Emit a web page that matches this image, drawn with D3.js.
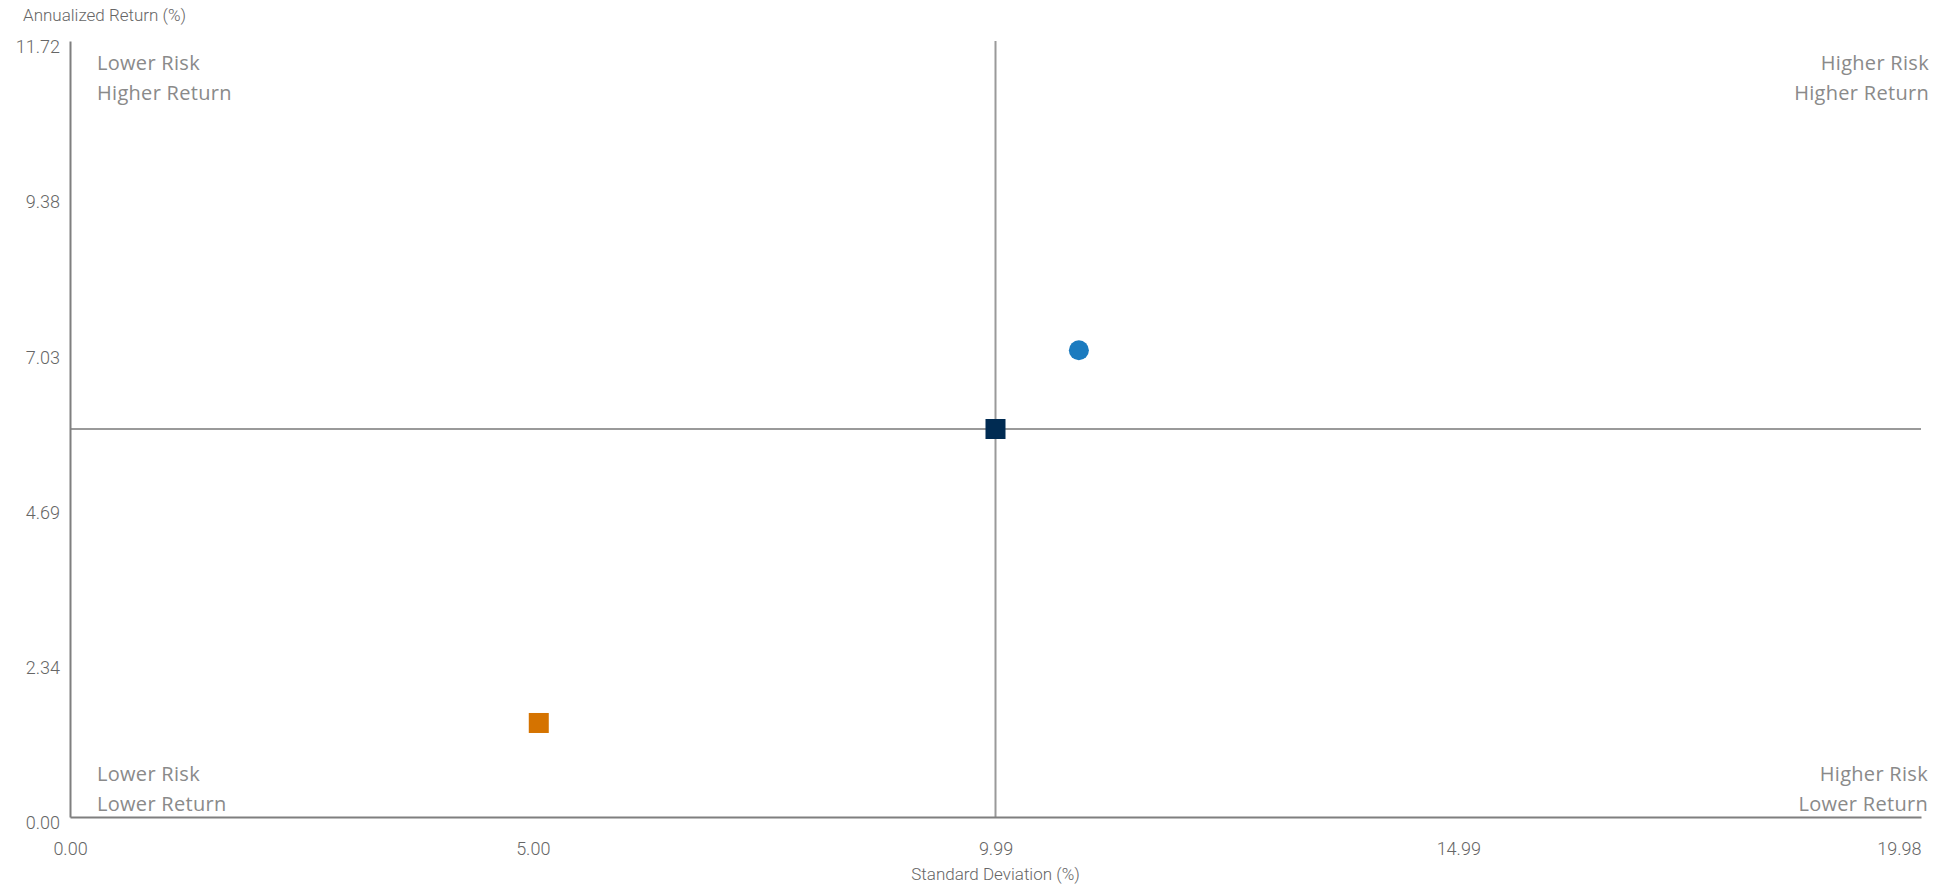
<!DOCTYPE html>
<html>
<head>
<meta charset="utf-8">
<script src="https://cdn.jsdelivr.net/npm/d3@7"></script>
<style>
  body { margin: 0; background: #fff; }
  .tick text { font-family: Roboto, sans-serif; font-weight: 300; font-size: 18px; fill: #666; }
  .quad { font-family: "Open Sans", sans-serif; font-size: 20px; fill: #8a8a8a; letter-spacing: 0.3px; }
  .axis-title { font-family: Roboto, sans-serif; font-weight: 300; font-size: 17px; fill: #666; }
</style>
</head>
<body>
<svg id="chart"></svg>
<script>
// data
var seriesNames = ['Fund', 'Benchmark', 'Category'];
var stdDev = [10.89, 9.99, 5.06];
var annReturn = [7.05, 5.86, 1.42];
var shapes = ['circle', 'square', 'square'];
var colors = ['#1b7bbf', '#002b52', '#d57300'];

var xTickValues = [0, 4.995, 9.99, 14.985, 19.98];
var xTickLabels = ['0.00', '5.00', '9.99', '14.99', '19.98'];
var yTickValues = [0, 2.344, 4.688, 7.032, 9.376, 11.72];
var yTickLabels = ['0.00', '2.34', '4.69', '7.03', '9.38', '11.72'];

var quadLabels = [
    ['Lower Risk', 'Higher Return'],
    ['Higher Risk', 'Higher Return'],
    ['Lower Risk', 'Lower Return'],
    ['Higher Risk', 'Lower Return']
];

var W = 1955, H = 884;
var margin = {top: 41, right: 34, bottom: 67, left: 70},
    width = W - margin.left - margin.right,
    height = H - margin.top - margin.bottom;

var svg = d3.select('#chart').
    attr('width', W).
    attr('height', H);

var g = svg.append('g').
    attr('transform', 'translate(' + margin.left + ',' + margin.top + ')');

var x = d3.scaleLinear().domain([0, 19.98]).range([0, width]);
var y = d3.scaleLinear().domain([0, 11.72]).range([height, 0]);

// benchmark crosshair
var bIdx = seriesNames.indexOf('Benchmark');
g.append('line').
    attr('x1', x(stdDev[bIdx])).attr('x2', x(stdDev[bIdx])).
    attr('y1', 0).attr('y2', height).
    attr('stroke', '#9a9a9a').attr('stroke-width', 2);
g.append('line').
    attr('x1', 0).attr('x2', width).
    attr('y1', y(annReturn[bIdx])).attr('y2', y(annReturn[bIdx])).
    attr('stroke', '#9a9a9a').attr('stroke-width', 2);

// axes
var xAxis = g.append('g').
    attr('transform', 'translate(0,' + height + ')').
    call(d3.axisBottom(x).
         tickValues(xTickValues).
         tickSize(0).
         tickPadding(25).
         tickFormat(function(d, i) { return xTickLabels[i]; }));
xAxis.select('.domain').attr('stroke', '#7f7f7f').attr('stroke-width', 2);
xAxis.selectAll('.tick text').filter(function(d, i) { return i === xTickValues.length - 1; }).
    attr('text-anchor', 'end');

var yAxis = g.append('g').
    call(d3.axisLeft(y).
         tickValues(yTickValues).
         tickSize(0).
         tickPadding(10).
         tickFormat(function(d, i) { return yTickLabels[i]; }));
yAxis.select('.domain').attr('stroke', '#7f7f7f').attr('stroke-width', 2);
yAxis.selectAll('.tick text').attr('dy', '0.65em');

// quadrant labels
var quadPos = [
    {x: 27, y: 22, anchor: 'start'},
    {x: width + 8, y: 22, anchor: 'end'},
    {x: 27, y: height - 43, anchor: 'start'},
    {x: width + 7, y: height - 43, anchor: 'end'}
];
quadLabels.forEach(function(lines, i) {
    var t = g.append('text').
        attr('class', 'quad').
        attr('text-anchor', quadPos[i].anchor);
    lines.forEach(function(line, j) {
        t.append('tspan').
            attr('x', quadPos[i].x).
            attr('y', quadPos[i].y + j * 30).
            attr('dy', '0.35em').
            text(line);
    });
});

// points
seriesNames.forEach(function(name, i) {
    var px = x(stdDev[i]), py = y(annReturn[i]);
    if (shapes[i] === 'circle') {
        g.append('circle').
            attr('cx', px).attr('cy', py).attr('r', 10).
            attr('fill', colors[i]);
    } else {
        g.append('rect').
            attr('x', px - 10).attr('y', py - 10).
            attr('width', 20).attr('height', 20).
            attr('fill', colors[i]);
    }
});

// axis titles
svg.append('text').
    attr('class', 'axis-title').
    attr('x', 23).attr('y', 21).
    text('Annualized Return (%)');
svg.append('text').
    attr('class', 'axis-title').
    attr('x', margin.left + width / 2).attr('y', 880).
    attr('text-anchor', 'middle').
    text('Standard Deviation (%)');
</script>
</body>
</html>
